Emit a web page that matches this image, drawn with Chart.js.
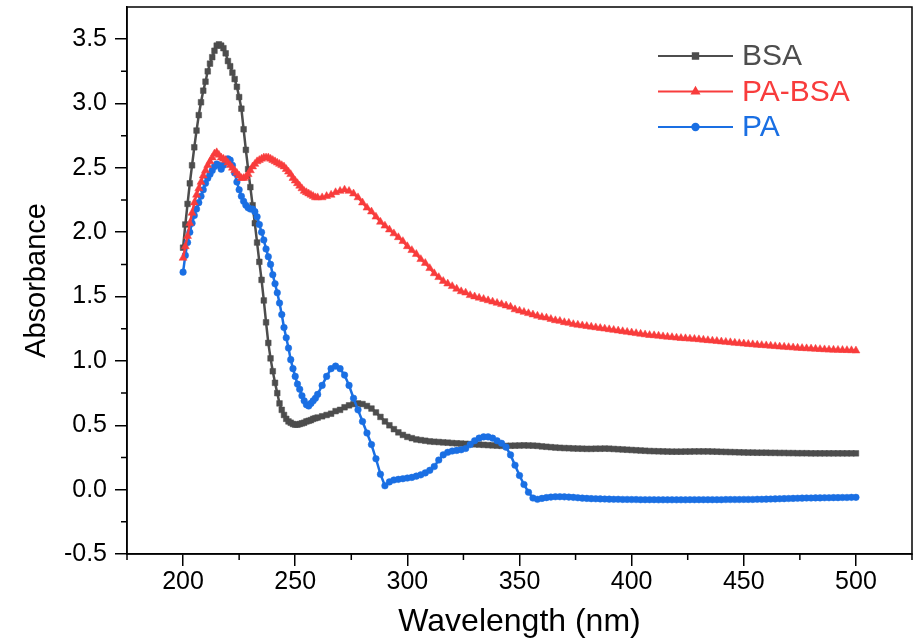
<!DOCTYPE html>
<html>
<head>
<meta charset="utf-8">
<script src="https://cdn.jsdelivr.net/npm/chart.js@4/dist/chart.umd.min.js"></script>
<style>
  body { margin: 0; background: #fff; }
</style>
</head>
<body>
<canvas id="chart" width="918" height="641"></canvas>
<script>
// sampling grid: 1 nm steps up to 260 nm, then 2 nm steps
const fineStart = 200
const fineEnd = 260
const coarseStart = 262
const coarseEnd = 500

const wavelengthsFine = []
for (let w = fineStart; w <= fineEnd; w++) wavelengthsFine.push(w)
const wavelengthsCoarse = []
for (let w = coarseStart; w <= coarseEnd; w += 2) wavelengthsCoarse.push(w)

// BSA absorbance
const bsaFine = [
  1.88, 2.06, 2.22, 2.38, 2.52, 2.66, 2.79, 2.91, 3.01, 3.10,
  3.17, 3.25, 3.31, 3.36, 3.41, 3.45, 3.46, 3.45, 3.43, 3.39,
  3.33, 3.29, 3.24, 3.19, 3.13, 3.05, 2.96, 2.80, 2.64, 2.49,
  2.35, 2.21, 2.07, 1.92, 1.77, 1.63, 1.47, 1.30, 1.14, 1.02,
  0.92, 0.83, 0.75, 0.67, 0.62, 0.58, 0.55, 0.53, 0.52, 0.51,
  0.505, 0.505, 0.51, 0.515, 0.52, 0.53, 0.535, 0.54, 0.55, 0.555,
  0.56
]
const bsaCoarse = [
  0.57, 0.58, 0.59, 0.61, 0.62, 0.64, 0.655, 0.665, 0.67, 0.665,
  0.65, 0.63, 0.60, 0.565, 0.53, 0.50, 0.47, 0.445, 0.425, 0.41,
  0.40, 0.39, 0.385, 0.38, 0.375, 0.372, 0.37, 0.367, 0.365, 0.362,
  0.36, 0.358, 0.356, 0.354, 0.352, 0.35, 0.348, 0.346, 0.344, 0.342,
  0.34, 0.34, 0.341, 0.342, 0.343, 0.344, 0.343, 0.342, 0.34, 0.336,
  0.333, 0.33, 0.327, 0.325, 0.323, 0.322, 0.32, 0.319, 0.318, 0.317,
  0.317, 0.318, 0.318, 0.319, 0.318, 0.316, 0.314, 0.312, 0.31, 0.308,
  0.306, 0.304, 0.302, 0.30, 0.299, 0.298, 0.297, 0.296, 0.295, 0.295,
  0.295, 0.296, 0.296, 0.297, 0.297, 0.297, 0.297, 0.296, 0.295, 0.294,
  0.293, 0.292, 0.291, 0.29, 0.289, 0.288, 0.288, 0.287, 0.287, 0.287,
  0.286, 0.286, 0.285, 0.285, 0.284, 0.284, 0.283, 0.283, 0.283, 0.282,
  0.282, 0.282, 0.282, 0.282, 0.282, 0.282, 0.282, 0.282, 0.282, 0.282
]

// PA-BSA absorbance
const paBsaFine = [
  1.80, 1.89, 1.97, 2.07, 2.15, 2.23, 2.29, 2.34, 2.39, 2.44,
  2.48, 2.52, 2.55, 2.58, 2.61, 2.62, 2.60, 2.58, 2.57, 2.56,
  2.54, 2.52, 2.50, 2.48, 2.46, 2.44, 2.42, 2.42, 2.43, 2.45,
  2.48, 2.51, 2.53, 2.55, 2.56, 2.57, 2.58, 2.58, 2.58, 2.57,
  2.56, 2.55, 2.54, 2.53, 2.52, 2.51, 2.49, 2.47, 2.45, 2.42,
  2.40, 2.38, 2.36, 2.34, 2.32, 2.31, 2.30, 2.29, 2.28, 2.27,
  2.27
]
const paBsaCoarse = [
  2.27, 2.28, 2.29, 2.31, 2.32, 2.33, 2.32, 2.30, 2.27, 2.23,
  2.19, 2.16, 2.12, 2.08, 2.05, 2.02, 1.99, 1.96, 1.93, 1.89,
  1.86, 1.83, 1.79, 1.76, 1.72, 1.68, 1.65, 1.62, 1.60, 1.58,
  1.56, 1.54, 1.53, 1.51, 1.50, 1.49, 1.48, 1.47, 1.46, 1.45,
  1.44, 1.43, 1.42, 1.40, 1.39, 1.38, 1.37, 1.36, 1.35, 1.34,
  1.335, 1.325, 1.315, 1.31, 1.30, 1.295, 1.285, 1.28, 1.275, 1.27,
  1.265, 1.26, 1.255, 1.25, 1.245, 1.24, 1.235, 1.23, 1.225, 1.22,
  1.215, 1.21, 1.205, 1.20, 1.198, 1.195, 1.19, 1.187, 1.184, 1.18,
  1.177, 1.175, 1.172, 1.17, 1.167, 1.164, 1.16, 1.157, 1.154, 1.15,
  1.147, 1.144, 1.14, 1.137, 1.134, 1.131, 1.128, 1.125, 1.122, 1.12,
  1.117, 1.114, 1.111, 1.109, 1.106, 1.104, 1.101, 1.099, 1.097, 1.095,
  1.093, 1.091, 1.089, 1.087, 1.086, 1.085, 1.084, 1.083, 1.082, 1.08
]

// PA absorbance
const paFine = [
  1.69, 1.82, 1.92, 2.00, 2.07, 2.13, 2.18, 2.23, 2.28, 2.33,
  2.38, 2.42, 2.45, 2.48, 2.51, 2.53, 2.52, 2.49, 2.52, 2.56,
  2.57, 2.56, 2.52, 2.46, 2.39, 2.33, 2.28, 2.24, 2.21, 2.19,
  2.18, 2.18, 2.16, 2.12, 2.06, 2.00, 1.94, 1.87, 1.81, 1.75,
  1.67, 1.60, 1.53, 1.45, 1.36, 1.26, 1.18, 1.10, 1.01, 0.94,
  0.88, 0.82, 0.78, 0.73, 0.69, 0.66, 0.65, 0.67, 0.69, 0.71,
  0.74
]
const paCoarse = [
  0.81, 0.88, 0.94, 0.96, 0.94, 0.89, 0.81, 0.71, 0.62, 0.53,
  0.44, 0.35, 0.24, 0.12, 0.03, 0.06, 0.075, 0.08, 0.085, 0.09,
  0.095, 0.105, 0.115, 0.13, 0.15, 0.18, 0.23, 0.27, 0.29, 0.30,
  0.305, 0.31, 0.32, 0.35, 0.38, 0.40, 0.41, 0.41, 0.40, 0.38,
  0.36, 0.33, 0.27, 0.19, 0.11, 0.04, -0.02, -0.065, -0.075, -0.068,
  -0.062, -0.058, -0.055, -0.055, -0.056, -0.058, -0.06, -0.063, -0.066, -0.068,
  -0.07, -0.071, -0.072, -0.073, -0.074, -0.075, -0.075, -0.076, -0.076, -0.077,
  -0.077, -0.078, -0.078, -0.078, -0.078, -0.079, -0.079, -0.079, -0.079, -0.079,
  -0.079, -0.079, -0.078, -0.078, -0.078, -0.078, -0.078, -0.078, -0.078, -0.078,
  -0.077, -0.077, -0.077, -0.077, -0.076, -0.076, -0.076, -0.075, -0.075, -0.074,
  -0.073, -0.072, -0.071, -0.07, -0.069, -0.068, -0.067, -0.066, -0.065, -0.065,
  -0.064, -0.064, -0.063, -0.063, -0.062, -0.062, -0.061, -0.061, -0.06, -0.06
]

const xTicks = [200, 250, 300, 350, 400, 450, 500]
const xMinorTicks = [175, 225, 275, 325, 375, 425, 475, 525]
const yTicks = [-0.5, 0, 0.5, 1, 1.5, 2, 2.5, 3, 3.5]
const yMinorTicks = [-0.25, 0.25, 0.75, 1.25, 1.75, 2.25, 2.75, 3.25]

const FONT = '"Liberation Sans", Arial, sans-serif'
const wavelengths = wavelengthsFine.concat(wavelengthsCoarse)
const toPoints = (fine, coarse) =>
  fine.concat(coarse).map((y, i) => ({ x: wavelengths[i], y }))

const series = [
  { label: 'BSA', data: toPoints(bsaFine, bsaCoarse), color: '#4d4d4d', pointStyle: 'rect', radius: 4, order: 2 },
  { label: 'PA-BSA', data: toPoints(paBsaFine, paBsaCoarse), color: '#f83c3c', pointStyle: 'triangle', radius: 4.6, order: 0 },
  { label: 'PA', data: toPoints(paFine, paCoarse), color: '#1a6fe3', pointStyle: 'circle', radius: 3.3, order: 1 }
]

// box frame, minor ticks and the line+symbol legend
const frameLegend = {
  id: 'frameLegend',
  afterDraw(chart) {
    const { ctx, chartArea: a, scales } = chart
    ctx.save()
    ctx.strokeStyle = '#000'
    ctx.lineWidth = 1.5
    ctx.strokeRect(a.left, a.top, a.right - a.left, a.bottom - a.top)
    ctx.beginPath()
    xMinorTicks.forEach((v) => {
      const px = scales.x.getPixelForValue(v)
      ctx.moveTo(px, a.bottom)
      ctx.lineTo(px, a.bottom + 6)
    })
    yMinorTicks.forEach((v) => {
      const py = scales.y.getPixelForValue(v)
      ctx.moveTo(a.left - 6, py)
      ctx.lineTo(a.left, py)
    })
    ctx.stroke()

    const x0 = a.left + 531
    const y0 = a.top + 49
    chart.data.datasets.forEach((ds, i) => {
      const y = y0 + i * 35.5
      ctx.strokeStyle = ds.borderColor
      ctx.fillStyle = ds.borderColor
      ctx.lineWidth = 2
      ctx.beginPath()
      ctx.moveTo(x0, y)
      ctx.lineTo(x0 + 75, y)
      ctx.stroke()
      Chart.helpers.drawPoint(ctx, { pointStyle: ds.pointStyle, radius: ds.pointStyle === 'circle' ? 3.2 : 3.8, rotation: 0, borderWidth: 1 }, x0 + 37.5, y)
      ctx.font = '30px ' + FONT
      ctx.textBaseline = 'middle'
      ctx.textAlign = 'left'
      ctx.fillText(ds.label, x0 + 84, y + 1)
    })
    ctx.restore()
  }
}

new Chart(document.getElementById('chart'), {
  type: 'line',
  data: {
    datasets: series.map((s) => ({
      label: s.label,
      data: s.data,
      borderColor: s.color,
      backgroundColor: s.color,
      borderWidth: 2.5,
      pointStyle: s.pointStyle,
      pointRadius: s.radius,
      pointBorderWidth: 0.5,
      tension: 0,
      order: s.order
    }))
  },
  options: {
    responsive: false,
    animation: false,
    devicePixelRatio: 1,
    layout: { padding: { top: 7, right: 6, left: 0, bottom: 0 } },
    plugins: {
      legend: { display: false },
      tooltip: { enabled: false }
    },
    scales: {
      x: {
        type: 'linear',
        min: 175,
        max: 525,
        afterBuildTicks: (s) => { s.ticks = xTicks.map((v) => ({ value: v })) },
        afterFit: (s) => { s.height = 87; s.paddingLeft = 0; s.paddingRight = 0 },
        grid: { drawOnChartArea: false, tickLength: 12, color: '#000', lineWidth: 1.5 },
        border: { color: '#000', width: 1.5 },
        ticks: {
          color: '#000',
          font: { family: FONT, size: 25 },
          padding: 1,
          maxRotation: 0,
          autoSkip: false,
          callback: (v) => String(v)
        },
        title: {
          display: true,
          text: 'Wavelength (nm)',
          color: '#000',
          font: { family: FONT, size: 32 },
          padding: 0
        }
      },
      y: {
        min: -0.5,
        max: 3.75,
        afterBuildTicks: (s) => { s.ticks = yTicks.map((v) => ({ value: v })) },
        afterFit: (s) => { s.width = 127; s.paddingTop = 0; s.paddingBottom = 0 },
        grid: { drawOnChartArea: false, tickLength: 12, color: '#000', lineWidth: 1.5 },
        border: { color: '#000', width: 1.5 },
        ticks: {
          color: '#000',
          font: { family: FONT, size: 25 },
          padding: 8,
          autoSkip: false,
          callback: (v) => v.toFixed(1)
        },
        title: {
          display: true,
          text: 'Absorbance',
          color: '#000',
          font: { family: FONT, size: 29 },
          padding: 20
        }
      }
    }
  },
  plugins: [frameLegend]
})
</script>
</body>
</html>
